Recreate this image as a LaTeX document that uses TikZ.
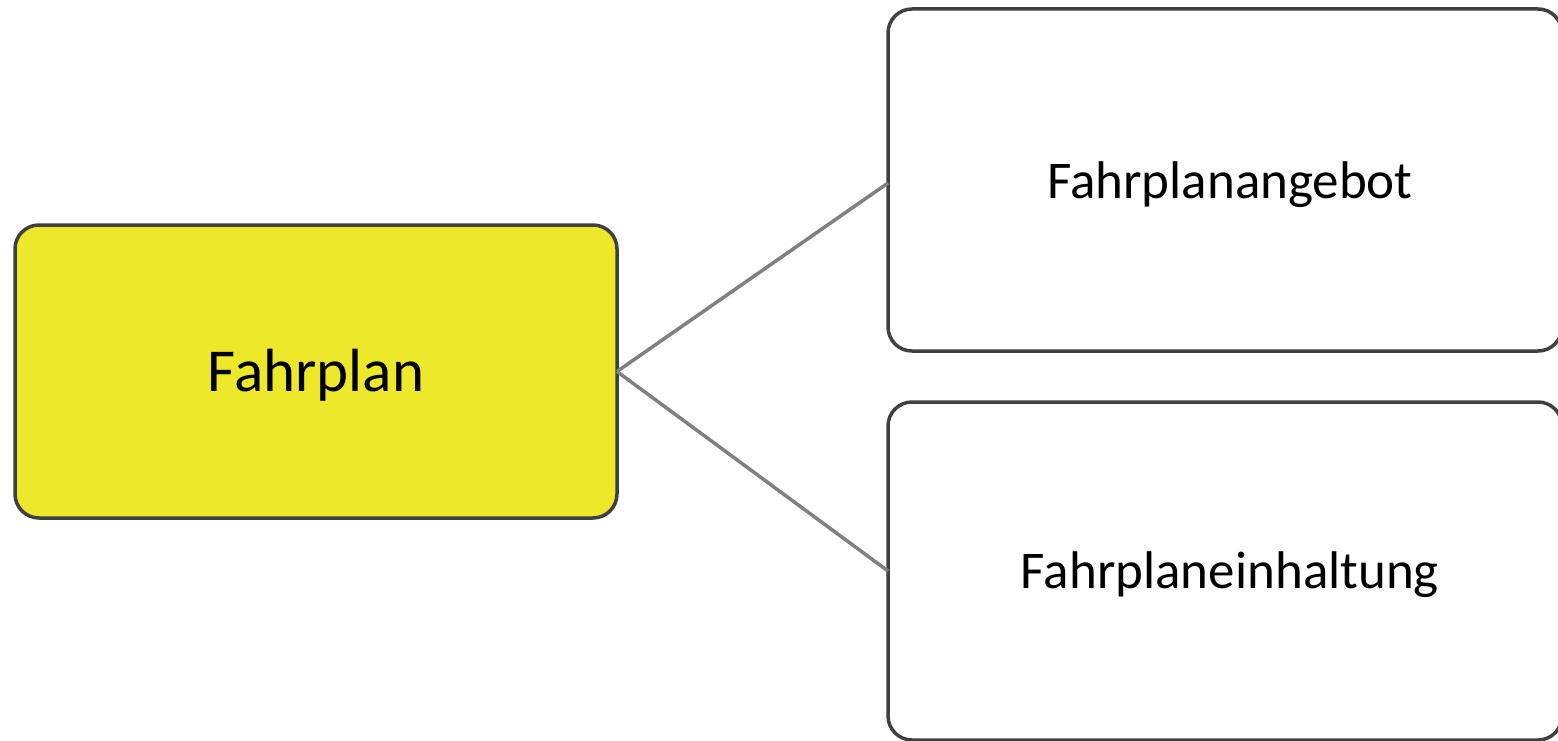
\documentclass[tikz,border=0pt]{standalone}
\usepackage{fontspec}
\setmainfont{Carlito}
\definecolor{boxyellow}{HTML}{EEE82A}
\definecolor{boxline}{HTML}{404040}
\definecolor{conn}{HTML}{808080}
\begin{document}
\begin{tikzpicture}[x=1pt,y=-1pt,
  box/.style={draw=boxline, line width=3.5pt, rounded corners=24pt, outer sep=0pt, inner sep=0pt, align=center},
  link/.style={draw=conn, line width=3.5pt},
  lbl/.style={inner sep=0pt, anchor=center}]
\useasboundingbox (0,0) rectangle (1558,741);
\node[box, fill=boxyellow, minimum width=602pt, minimum height=293pt] (fahrplan) at (316,371.5) {};
\node[box, fill=white, minimum width=674pt, minimum height=342pt] (angebot) at (1225,180) {};
\node[box, fill=white, minimum width=674pt, minimum height=338pt] (einhaltung) at (1225,571) {};
\node[lbl, font=\fontsize{61}{70}\selectfont] (fahrplantext) at (316,375) {Fahrplan};
\node[lbl, font=\fontsize{53}{62}\selectfont] (angebottext) at (1230,185) {Fahrplanangebot};
\node[lbl, font=\fontsize{53}{62}\selectfont] (einhaltungtext) at (1230,575) {Fahrplaneinhaltung};
\draw[link] (fahrplan.east) -- ([yshift=-3pt]angebot.west);
\draw[link] (fahrplan.east) -- (einhaltung.west);
\end{tikzpicture}
\end{document}
